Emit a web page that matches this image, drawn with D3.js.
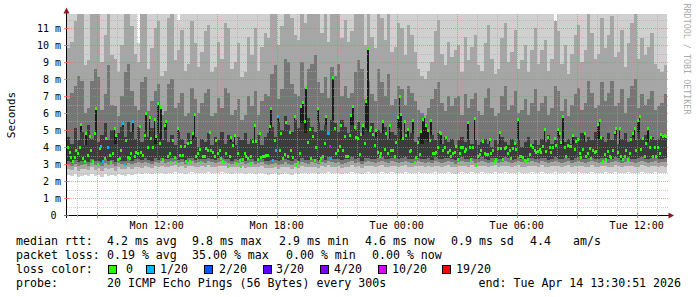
<!DOCTYPE html>
<html>
<head>
<meta charset="utf-8">
<title>Smokeping RTT</title>
<script src="https://d3js.org/d3.v7.min.js"></script>
<style>
  body { margin: 0; background: #fff; }
  text { font-family: "DejaVu Sans Mono", monospace; }
</style>
</head>
<body>
<script>
// median rtt (ms), one value per 300 s step
const medians = [
  4.0,3.7,3.4,3.15,3.4,3.8,3.6,3.95,5.3,3.35,3.15,4.8,3.5,4.6,3.8,3.15,4.8,6.25,3.0,3.9,
  4.05,3.15,3.3,4.5,4.0,3.5,3.1,3.6,5.1,4.7,3.25,3.3,3.8,5.4,2.96,4.4,3.4,3.3,3.6,5.5,
  3.45,3.7,3.6,5.2,3.65,3.5,4.65,5.95,3.95,5.75,4.5,3.95,5.6,4.6,6.55,4.2,6.3,3.25,5.25,5.5,
  3.43,3.6,3.08,4.4,3.4,3.08,5.1,3.5,4.02,3.49,4.02,3.14,4.18,3.14,4.26,4.77,5.9,3.43,3.6,3.86,
  3.08,3.43,3.47,3.92,3.82,4.86,3.82,3.7,3.43,4.41,3.59,3.82,3.3,3.14,3.08,3.59,2.88,3.43,4.57,4.06,
  4.69,3.04,3.59,3.2,2.88,3.28,3.63,3.43,3.3,3.04,3.43,4.31,5.24,4.35,3.24,4.77,3.39,3.47,3.43,3.5,
  3.51,5.2,6.25,3.2,4.37,3.82,5.78,3.8,4.77,3.32,3.55,5.43,3.47,4.84,3.82,3.39,5.78,2.92,3.08,3.63,
  6.41,6.61,5.49,7.51,4.26,5.04,3.32,4.61,3.2,3.98,6.29,3.14,3.32,3.47,4.18,5.82,4.77,4.02,3.32,8.08,
  5.1,3.59,3.78,4.02,5.24,3.78,4.61,3.43,3.43,4.65,5.86,6.37,5.16,4.55,4.51,3.53,4.73,5.24,4.18,6.67,
  9.8,4.96,5.16,4.73,4.06,4.96,3.67,3.47,3.63,5.49,3.86,4.77,3.59,5.24,3.78,3.82,3.43,4.26,5.75,6.96,
  5.94,4.51,5.49,4.65,5.04,3.73,3.82,5.55,3.08,3.39,4.26,3.53,4.9,5.63,5.82,5.29,4.96,4.41,5.55,3.59,
  3.63,3.7,3.98,4.84,4.77,3.78,3.98,4.57,3.67,3.82,3.43,3.59,3.67,4.02,3.24,3.59,3.98,3.98,3.73,3.86,
  5.43,3.98,3.28,3.98,5.69,2.94,3.47,3.53,3.82,4.31,3.63,3.53,3.53,4.45,3.59,3.82,3.14,3.24,3.9,4.88,
  3.9,3.24,3.9,3.98,3.59,3.78,3.33,3.92,4.18,3.86,5.59,3.43,3.43,3.39,3.2,3.14,3.28,3.53,4.06,3.98,
  3.82,3.67,3.73,3.86,3.67,4.02,5.04,3.73,4.55,3.98,3.67,3.98,4.51,4.06,5.04,4.77,4.26,5.82,3.98,3.47,
  4.1,4.02,4.02,4.65,3.86,4.31,4.45,3.59,3.39,3.86,4.8,3.47,3.59,3.92,3.33,3.82,3.67,3.73,5.35,5.55,
  4.57,3.14,3.53,3.24,3.73,3.47,3.39,3.78,4.84,5.08,3.67,5.08,3.47,3.24,3.43,3.78,3.28,3.63,4.45,4.77,
  5.1,3.78,5.55,5.82,3.86,4.51,3.43,4.22,5.1,3.98,4.57,3.47,3.98,3.47,3.98,3.63,4.73,4.61,4.65,4.6
];

// steps with lost pings (index into medians) and how many of 20 were lost
const lossSteps  = [20, 21, 24, 33, 34, 39, 123, 125, 126, 156, 157, 158];
const lossCounts = [1, 1, 1, 1, 1, 1, 1, 1, 1, 1, 10, 1];

// smoke: spread of the 20 pings (ms), one column per 600 s
const smokeLo = [
  2.35,2.3,2.4,2.25,2.3,2.35,2.3,2.4,2.3,2.35,2.25,2.4,2.3,2.35,2.3,2.4,2.35,2.3,2.4,2.35,
  2.4,2.45,2.4,2.5,2.45,2.4,2.5,2.45,2.5,2.4,2.45,2.5,2.55,2.45,2.5,2.4,2.5,2.55,2.45,2.5,
  2.5,2.45,2.55,2.5,2.45,2.5,2.55,2.5,2.45,2.4,2.5,2.45,2.5,2.4,2.45,2.5,2.4,2.45,2.5,2.4,
  2.35,2.4,2.45,2.35,2.4,2.5,2.4,2.35,2.45,2.4,2.5,2.45,2.4,2.5,2.45,2.4,2.5,2.45,2.55,2.5,
  2.45,2.5,2.4,2.45,2.5,2.55,2.45,2.5,2.4,2.5,2.55,2.5,2.45,2.5,2.55,2.5,2.45,2.55,2.5,2.45,
  2.5,2.55,2.5,2.45,2.5,2.55,2.5,2.45,2.5,2.45,2.55,2.5,2.45,2.5,2.55,2.5,2.4,2.5,2.55,2.5,
  2.5,2.55,2.45,2.5,2.55,2.5,2.45,2.5,2.55,2.45,2.5,2.55,2.5,2.45,2.5,2.55,2.5,2.45,2.5,2.55,
  2.5,2.45,2.55,2.5,2.45,2.5,2.55,2.5,2.45,2.5,2.55,2.45,2.5,2.55,2.5,2.45,2.5,2.55,2.5,2.45,
  2.5,2.55,2.45,2.5,2.55,2.5,2.45,2.5,2.55,2.5,2.45,2.5,2.55,2.5,2.45,2.5,2.55,2.45,2.5,2.5
];
const smokeP10 = [
  2.7,2.65,2.8,2.6,2.7,2.7,2.65,2.8,2.65,2.75,2.6,2.75,2.7,2.75,2.6,2.8,2.7,2.7,2.8,2.7,
  2.8,2.85,2.75,2.9,2.85,2.75,2.9,2.8,2.9,2.8,2.8,2.9,2.95,2.8,2.9,2.75,2.9,2.9,2.85,2.85,
  2.9,2.8,2.95,2.85,2.85,2.9,2.9,2.9,2.8,2.8,2.85,2.85,2.9,2.75,2.85,2.85,2.8,2.8,2.9,2.75,
  2.75,2.75,2.85,2.7,2.8,2.85,2.8,2.7,2.85,2.75,2.9,2.8,2.8,2.85,2.85,2.75,2.9,2.8,2.95,2.85,
  2.85,2.9,2.75,2.85,2.85,2.95,2.8,2.9,2.75,2.9,2.9,2.9,2.8,2.9,2.95,2.85,2.85,2.9,2.9,2.8,
  2.9,2.95,2.85,2.85,2.9,2.9,2.9,2.8,2.9,2.85,2.9,2.9,2.8,2.9,2.95,2.85,2.8,2.9,2.9,2.9,
  2.85,2.95,2.85,2.9,2.9,2.9,2.8,2.9,2.95,2.8,2.9,2.9,2.9,2.8,2.9,2.95,2.85,2.85,2.9,2.9,
  2.9,2.8,2.95,2.85,2.85,2.9,2.9,2.9,2.8,2.9,2.95,2.8,2.9,2.9,2.9,2.85,2.85,2.95,2.85,2.85,
  2.9,2.9,2.85,2.85,2.95,2.9,2.8,2.9,2.9,2.9,2.85,2.85,2.95,2.9,2.8,2.9,2.9,2.85,2.9,2.85
];
const smokeP25 = [
  2.95,2.9,3.0,2.9,2.95,3.0,2.9,3.05,2.95,3.0,2.9,3.05,2.95,3.0,2.9,3.05,3.0,2.95,3.05,3.0,
  3.05,3.1,3.05,3.1,3.05,3.0,3.1,3.05,3.15,3.05,3.1,3.1,3.15,3.05,3.1,3.0,3.1,3.15,3.05,3.1,
  3.1,3.05,3.15,3.1,3.05,3.1,3.15,3.1,3.05,3.0,3.1,3.05,3.1,3.0,3.05,3.1,3.0,3.05,3.1,3.0,
  2.95,3.0,3.05,2.95,3.0,3.1,3.0,2.95,3.05,3.0,3.1,3.05,3.0,3.1,3.05,3.0,3.1,3.05,3.15,3.1,
  3.05,3.1,3.0,3.05,3.1,3.15,3.05,3.1,3.0,3.1,3.15,3.1,3.05,3.1,3.15,3.1,3.05,3.15,3.1,3.05,
  3.1,3.15,3.1,3.05,3.1,3.15,3.1,3.05,3.1,3.05,3.15,3.1,3.05,3.1,3.15,3.1,3.0,3.1,3.15,3.1,
  3.1,3.15,3.05,3.1,3.15,3.1,3.05,3.1,3.15,3.05,3.1,3.15,3.1,3.05,3.1,3.15,3.1,3.05,3.1,3.15,
  3.1,3.05,3.15,3.1,3.05,3.1,3.15,3.1,3.05,3.1,3.15,3.05,3.1,3.15,3.1,3.05,3.1,3.15,3.1,3.05,
  3.1,3.15,3.05,3.1,3.15,3.1,3.05,3.1,3.15,3.1,3.05,3.1,3.15,3.1,3.05,3.1,3.15,3.05,3.1,3.1
];
const smokeP40 = [
  3.15,3.1,3.25,3.1,3.2,3.2,3.1,3.3,3.15,3.2,3.1,3.3,3.15,3.25,3.1,3.25,3.2,3.2,3.3,3.2,
  3.3,3.3,3.25,3.35,3.25,3.2,3.35,3.25,3.35,3.3,3.3,3.35,3.4,3.25,3.3,3.2,3.35,3.35,3.25,3.3,
  3.3,3.3,3.35,3.3,3.25,3.35,3.35,3.3,3.3,3.2,3.3,3.25,3.35,3.2,3.3,3.3,3.2,3.3,3.3,3.2,
  3.2,3.25,3.25,3.2,3.25,3.3,3.25,3.2,3.3,3.2,3.35,3.25,3.25,3.3,3.3,3.2,3.35,3.25,3.4,3.3,
  3.3,3.3,3.25,3.3,3.3,3.4,3.3,3.35,3.2,3.35,3.35,3.3,3.3,3.35,3.4,3.3,3.3,3.35,3.35,3.3,
  3.35,3.4,3.3,3.3,3.35,3.35,3.3,3.3,3.35,3.25,3.4,3.3,3.3,3.35,3.35,3.3,3.25,3.35,3.4,3.3,
  3.3,3.35,3.3,3.3,3.4,3.3,3.25,3.35,3.35,3.3,3.3,3.4,3.35,3.25,3.3,3.4,3.3,3.3,3.35,3.35,
  3.3,3.3,3.35,3.35,3.25,3.3,3.4,3.3,3.3,3.35,3.35,3.25,3.35,3.4,3.3,3.3,3.35,3.35,3.3,3.3,
  3.35,3.35,3.3,3.3,3.4,3.35,3.25,3.35,3.4,3.3,3.3,3.35,3.4,3.3,3.3,3.35,3.35,3.3,3.3,3.35
];
const smokeP60 = [
  4.6,4.2,5.1,4.4,4.9,4.1,5.3,4.5,4.8,4.3,4.7,5.4,4.4,5.0,4.2,4.8,5.2,4.6,5.5,4.9,
  4.5,5.2,4.3,4.9,4.6,5.1,4.2,4.8,4.4,5.0,4.3,4.7,4.1,4.9,4.5,4.2,4.8,4.4,4.6,4.0,
  4.5,4.3,4.8,4.1,4.6,4.4,4.9,4.2,4.7,4.3,4.1,4.6,4.4,4.8,4.2,4.5,4.3,4.7,4.1,4.6,
  4.8,5.2,4.6,5.5,5.0,5.8,5.3,4.9,5.6,5.1,5.4,4.8,5.7,5.2,4.9,5.5,5.0,5.3,4.7,5.6,
  5.4,4.9,5.6,5.2,4.8,5.3,5.0,5.5,4.7,5.1,4.9,5.4,4.6,5.0,4.8,5.2,4.5,4.9,4.7,5.1,
  4.4,4.9,4.6,4.8,4.3,4.6,4.2,4.5,4.3,4.7,4.4,4.8,4.2,4.6,4.3,4.5,4.1,4.4,4.6,4.3,
  4.5,4.2,4.4,4.1,4.3,4.5,4.2,4.0,4.4,4.2,4.6,4.3,4.1,4.5,4.2,4.4,4.0,4.3,4.6,4.2,
  4.4,4.1,4.5,4.3,4.7,4.2,4.4,4.6,4.1,4.3,4.5,4.2,4.6,4.4,4.8,4.3,4.6,4.4,4.9,4.5,
  4.6,4.3,4.8,4.4,4.7,4.2,4.5,4.8,4.3,4.6,4.4,4.9,4.5,4.7,4.3,4.6,4.4,4.5,4.7,4.6
];
const smokeP75 = [
  6.8,7.2,7.6,8.2,7.9,6.0,6.3,7.9,8.6,8.1,6.2,7.1,8.8,6.5,6.4,5.8,7.0,8.4,8.9,7.3,
  6.4,6.2,7.8,8.1,6.1,6.7,7.3,7.7,5.9,6.1,7.7,8.0,6.3,6.6,7.2,5.8,6.0,7.5,6.8,6.0,
  6.6,7.2,7.4,5.8,6.0,6.9,6.3,7.5,7.2,5.9,6.2,6.8,5.6,5.9,7.0,6.4,7.3,5.9,6.7,7.1,
  7.0,8.3,8.8,6.8,7.4,9.2,9.0,7.7,7.1,7.0,9.0,7.5,8.6,8.9,9.4,7.8,7.2,8.1,6.9,8.7,
  8.2,8.9,7.0,7.6,6.9,7.2,8.4,9.1,8.6,6.8,7.9,7.1,6.7,8.6,7.8,7.0,8.3,6.5,6.8,7.6,
  7.4,6.5,7.6,7.2,6.7,6.2,6.0,5.9,6.3,6.8,7.4,7.8,6.6,6.1,7.0,6.4,6.9,7.0,5.9,7.1,
  6.3,6.8,7.2,6.1,5.9,6.9,7.5,6.3,5.8,6.0,7.0,7.6,6.2,6.5,7.3,6.0,6.2,6.8,5.9,6.6,
  7.4,6.1,6.6,7.0,5.9,6.3,7.6,7.3,6.1,6.8,5.8,6.5,7.1,7.5,6.2,6.6,7.9,7.2,6.3,6.5,
  7.8,6.7,7.2,7.9,6.4,6.6,7.4,6.0,6.9,7.6,8.0,6.3,7.1,6.5,6.8,7.3,6.2,6.4,6.6,7.1
];
const smokeP90 = [
  9.8,10.2,11.4,12.6,12.2,8.8,9.1,11.9,12.8,12.4,9.0,10.6,12.9,9.4,9.2,8.4,10.0,12.5,13.0,11.1,
  9.5,9.0,12.2,12.5,8.6,9.8,11.0,11.4,8.2,8.5,11.6,12.3,9.1,9.7,10.9,8.5,8.9,11.4,10.1,8.7,
  9.6,10.8,11.2,8.4,8.7,10.2,9.2,11.3,11.0,8.6,9.0,10.1,8.1,8.4,10.5,9.4,11.0,8.5,9.9,10.7,
  10.4,12.4,12.9,10.0,11.1,13.2,13.0,11.6,10.6,10.3,13.0,11.3,12.6,12.8,13.4,11.8,10.7,12.0,10.2,12.7,
  12.3,12.9,10.4,11.5,10.2,10.8,12.5,13.1,12.7,10.0,11.8,10.5,9.8,12.7,11.6,10.3,12.2,9.6,9.9,11.3,
  11.0,9.4,11.2,10.6,9.6,8.6,8.2,8.0,8.5,9.0,10.8,11.5,9.5,8.8,10.2,9.3,9.7,10.0,8.4,10.5,
  9.1,9.9,10.6,8.8,8.5,10.1,11.2,9.2,8.3,8.6,10.4,11.3,9.0,9.6,10.9,8.6,9.1,10.0,8.4,9.7,
  11.0,8.9,9.7,10.3,8.5,9.2,11.4,10.8,8.9,10.0,8.3,9.5,10.6,11.2,9.0,9.7,11.8,10.7,9.2,9.5,
  11.6,9.8,10.6,11.7,9.3,9.6,10.9,8.7,10.1,11.3,11.8,9.2,10.4,9.4,9.9,10.7,8.9,8.6,8.4,8.8
];
const smokeHi = [
  13,12.4,14,12.2,13.6,12,14,12.6,13.4,12.1,13,14,12.5,12.2,12.8,12.4,13.8,12.9,14,13.2,
  12.6,10.1,12.2,13.5,12.8,13.2,12.1,13.6,12.4,13.8,12.7,13.1,12.0,11.5,12.9,12.3,13.3,12.5,13.0,12.2,
  13,12.3,13.6,12.1,13.2,12.6,13.8,12.2,13.1,12.5,12.0,13.4,12.7,13.6,12.3,13.0,12.4,13.5,12.1,12.9,
  13.5,14,13.2,14,13.6,14,13.8,13.1,14,13.5,14,13.0,14,13.7,13.2,14,13.4,14,13.1,14,
  14,13.2,14,13.6,13.0,14,13.3,14,12.9,13.8,13.1,14,12.8,13.6,13.0,14,12.6,13.5,12.9,13.3,
  12.8,13.5,12.6,13.2,12.2,12.0,12.1,12.3,12.5,13.4,12.7,13.8,12.4,13.1,12.6,13.0,12.3,12.9,13.3,12.5,
  13.1,12.4,13.5,12.2,13.0,13.7,12.6,12.1,13.3,12.5,13.6,12.8,12.3,13.4,12.7,13.0,12.2,12.8,13.5,12.4,
  12.9,12.2,13.2,12.6,13.7,12.4,11.2,13.3,12.1,12.7,13.2,12.4,13.6,12.8,14,12.5,13.1,12.7,13.8,12.9,
  13.3,12.6,14,12.8,13.4,12.3,13.0,13.6,12.5,13.2,12.7,14,12.9,13.3,12.4,12.8,12.3,12.2,12.5,12.4
];

const yTicks = [0, 1, 2, 3, 4, 5, 6, 7, 8, 9, 10, 11];
const lossLabels = ["0", "1/20", "2/20", "3/20", "4/20", "10/20", "19/20"];
const lossLevels = [0, 1, 2, 3, 4, 10, 19];
const lossColors = ["#26ff00", "#00b8ff", "#0059ff", "#5e00ff", "#7e00ff", "#dd00ff", "#ff0000"];

// legend pieces: [text, x]
const legendRtt = [["median rtt:", 16], ["4.2 ms avg", 107], ["9.8 ms max", 192], ["2.9 ms min", 279],
  ["4.6 ms now", 365], ["0.9 ms sd", 451], ["4.4", 530], ["am/s", 573]];
const legendLoss = [["packet loss:", 16], ["0.19 % avg", 107], ["35.00 % max", 192],
  ["0.00 % min", 286], ["0.00 % now", 372]];
const probeText = "20 ICMP Echo Pings (56 Bytes) every 300s";
const endLabel = "end: Tue Apr 14 13:30:51 2026";

(function () {
  const STEP = 300, SMOKE_STEP = 600;
  const endTime = new Date(Date.UTC(2026, 3, 14, 13, 30, 51));
  const startTime = new Date(endTime.getTime() - 30 * 3600e3);

  const W = 697, H = 297;
  const pL = 67, pR = 667, pT = 14, pB = 215;

  const svg = d3.select("body").append("svg")
    .attr("width", W).attr("height", H);

  const x = d3.scaleUtc().domain([startTime, endTime]).range([pL, pR]);
  const y = d3.scaleLinear().domain([0, (pB - pT) / 17]).range([pB, pT]);

  svg.append("defs").append("clipPath").attr("id", "plot")
    .append("rect").attr("x", pL).attr("y", pT)
    .attr("width", pR - pL).attr("height", pB - pT);

  const tAt = (i, step) => new Date(startTime.getTime() + i * step * 1000);
  const smokeCol = i => Math.floor(i * STEP / SMOKE_STEP);

  // smoke bands, outer to inner
  const bands = [
    [smokeLo, smokeHi, "#d0d0d0"],
    [smokeP10, smokeP90, "#a6a6a6"],
    [smokeP25, smokeP75, "#767676"],
    [smokeP40, smokeP60, "#3c3c3c"]
  ];
  const smoke = svg.append("g").attr("clip-path", "url(#plot)")
    .attr("shape-rendering", "crispEdges");
  bands.forEach(([lo, hi, col]) => {
    smoke.append("g").selectAll("rect").data(d3.range(lo.length)).join("rect")
      .attr("x", j => x(tAt(j, SMOKE_STEP)))
      .attr("width", j => x(tAt(j + 1, SMOKE_STEP)) - x(tAt(j, SMOKE_STEP)))
      .attr("y", j => y(hi[j]))
      .attr("height", j => y(lo[j]) - y(hi[j]))
      .attr("fill", col);
  });

  // dark stems from high medians down into the dense core
  smoke.append("g").selectAll("rect")
    .data(d3.range(medians.length).filter(i => medians[i] > smokeP60[smokeCol(i)]))
    .join("rect")
    .attr("x", i => x(tAt(i, STEP)))
    .attr("width", i => x(tAt(i + 1, STEP)) - x(tAt(i, STEP)))
    .attr("y", i => y(medians[i]))
    .attr("height", i => y(smokeP60[smokeCol(i)]) - y(medians[i]))
    .attr("fill", "#1c1c1c");

  // grid
  const grid = svg.append("g").attr("fill", "none").attr("stroke-dasharray", "1,1");
  d3.range(1, 24).map(k => k / 2).forEach(v => {
    const py = Math.round(y(v)) + 0.5;
    grid.append("line").attr("x1", pL).attr("x2", pR + 2).attr("y1", py).attr("y2", py)
      .attr("stroke", Number.isInteger(v) ? "#ff5f5f" : "#ababab")
      .attr("stroke-opacity", 0.6);
  });
  const hours = d3.utcHour.range(d3.utcHour.ceil(startTime), endTime);
  hours.forEach(h => {
    const px = Math.round(x(h)) + 0.5;
    const major = h.getUTCHours() % 3 === 0;
    grid.append("line").attr("x1", px).attr("x2", px).attr("y1", pT).attr("y2", pB)
      .attr("stroke", major ? "#ff5f5f" : "#ababab").attr("stroke-opacity", 0.6);
  });

  // median markers, coloured by loss
  const lossOf = i => {
    const k = lossSteps.indexOf(i);
    return k < 0 ? 0 : lossCounts[k];
  };
  const lossColor = n => {
    let c = lossColors[0];
    lossLevels.forEach((lv, k) => { if (n >= lv) c = lossColors[k]; });
    return c;
  };
  svg.append("g").attr("clip-path", "url(#plot)").attr("shape-rendering", "crispEdges")
    .selectAll("rect").data(medians).join("rect")
    .attr("x", (d, i) => x(tAt(i, STEP)))
    .attr("width", (d, i) => x(tAt(i + 1, STEP)) - x(tAt(i, STEP)) + 0.4)
    .attr("y", d => y(d) - 1.5)
    .attr("height", 3)
    .attr("fill", (d, i) => lossColor(lossOf(i)));

  // axes
  const ax = svg.append("g").attr("shape-rendering", "crispEdges");
  ax.append("line").attr("x1", 64).attr("x2", 669).attr("y1", pB + 0.5).attr("y2", pB + 0.5)
    .attr("stroke", "#000");
  ax.append("line").attr("x1", pL - 0.5).attr("x2", pL - 0.5).attr("y1", 12).attr("y2", pB + 3)
    .attr("stroke", "#000");
  hours.forEach(h => {
    const px = Math.round(x(h)) + 0.5;
    const major = h.getUTCHours() % 3 === 0;
    ax.append("line").attr("x1", px).attr("x2", px)
      .attr("y1", pB - (major ? 2 : 1)).attr("y2", pB + (major ? 3 : 2))
      .attr("stroke", major ? "#ff5f5f" : "#ababab");
  });
  yTicks.forEach(v => {
    const py = Math.round(y(v)) + 0.5;
    ax.append("line").attr("x1", pL - 3).attr("x2", pL + 2).attr("y1", py).attr("y2", py)
      .attr("stroke", "#ff5f5f").attr("stroke-opacity", 0.8);
  });
  svg.append("path").attr("d", "M63.5,13.5 L69.5,13.5 L66.5,7.5 Z").attr("fill", "#8b1a1a");
  svg.append("path").attr("d", "M668.5,212.5 L668.5,218.5 L674,215.5 Z").attr("fill", "#8b1a1a");

  // tick labels
  svg.append("g").selectAll("text").data(yTicks).join("text")
    .attr("x", d => d === 0 ? 56.5 : 61)
    .attr("y", d => y(d))
    .attr("dy", "0.35em")
    .attr("text-anchor", "end")
    .attr("font-size", 10)
    .attr("fill", "#000")
    .text(d => d === 0 ? "0" : d + " m");

  const fmt = d3.utcFormat("%a %H:%M");
  svg.append("g").selectAll("text").data(hours.filter(h => h.getUTCHours() % 6 === 0)).join("text")
    .attr("x", d => x(d))
    .attr("y", 229)
    .attr("text-anchor", "middle")
    .attr("font-size", 10)
    .text(d => fmt(d));

  svg.append("text")
    .attr("transform", "translate(15,115) rotate(-90)")
    .attr("text-anchor", "middle")
    .attr("font-size", 11)
    .text("Seconds");

  svg.append("text")
    .attr("transform", "translate(684,59) rotate(90)")
    .attr("text-anchor", "middle")
    .attr("font-size", 8.4)
    .attr("fill", "#aaaaaa")
    .text("RRDTOOL / TOBI OETIKER");

  // legend
  const lg = svg.append("g").attr("font-size", 11.6).attr("fill", "#000");
  const row = k => 245 + k * 14;
  legendRtt.forEach(([s, px]) => lg.append("text").attr("x", px).attr("y", row(0)).text(s));
  legendLoss.forEach(([s, px]) => lg.append("text").attr("x", px).attr("y", row(1)).text(s));
  lg.append("text").attr("x", 16).attr("y", row(2)).text("loss color:");
  lg.append("text").attr("x", 16).attr("y", row(3)).text("probe:");
  lg.append("text").attr("x", 107).attr("y", row(3)).text(probeText);
  lg.append("text").attr("x", 681).attr("y", row(3)).attr("text-anchor", "end").text(endLabel);

  const boxX = [108, 146, 204, 263, 320, 378, 442];
  const labX = [126, 160, 219, 276, 334, 392, 456];
  lossLabels.forEach((lab, k) => {
    lg.append("rect").attr("x", boxX[k] + 0.5).attr("y", 265.5).attr("width", 8).attr("height", 8)
      .attr("fill", lossColors[k]).attr("stroke", "#000").attr("stroke-width", 1);
    lg.append("text").attr("x", labX[k]).attr("y", row(2)).text(lab);
  });
})();
</script>
</body>
</html>
